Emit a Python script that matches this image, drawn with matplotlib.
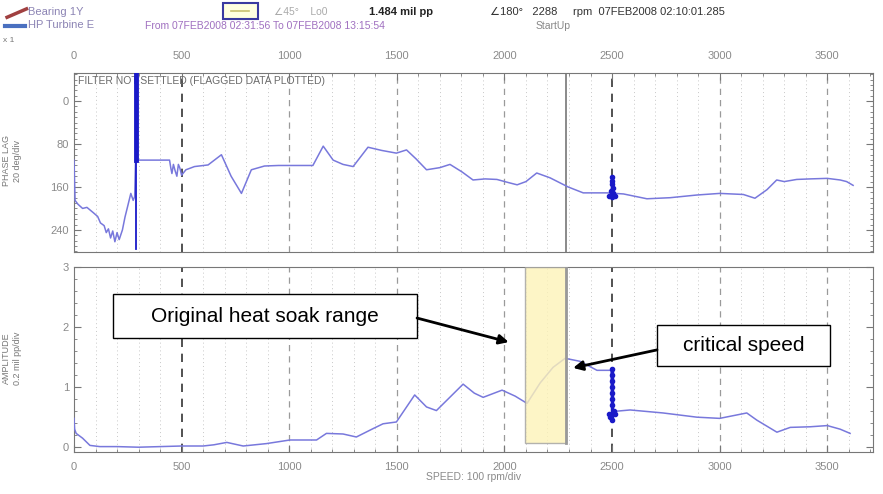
import matplotlib
matplotlib.use('Agg')
import matplotlib.pyplot as plt
from matplotlib.patches import Rectangle
from matplotlib.lines import Line2D
from matplotlib.ticker import MultipleLocator

plt.rcParams['font.family'] = ['Liberation Sans', 'DejaVu Sans']

# phase lag (deg) vs speed (rpm)
phase_rpm = [0, 5, 18, 40, 60, 90, 110, 123, 140, 150, 160, 170, 180, 190, 200, 210,
             225, 237, 250, 264, 275, 282, 286, 330, 444, 450, 455, 462, 470, 478,
             485, 492, 500, 520, 560, 623, 685, 730, 778, 824, 885, 950, 1020, 1110,
             1158, 1204, 1250, 1297, 1366, 1430, 1498, 1545, 1590, 1638, 1700, 1747,
             1803, 1854, 1910, 1965, 2020, 2059, 2100, 2150, 2212, 2296, 2366, 2476,
             2553, 2662, 2770, 2894, 3000, 3110, 3164, 3220, 3265, 3300, 3358, 3420,
             3500, 3560, 3590, 3620]
phase_deg = [110, 185, 192, 200, 198, 208, 215, 227, 232, 245, 238, 255, 242, 262, 245, 258,
             240, 216, 195, 172, 185, 178, 110, 110, 110, 125, 135, 118, 130, 140,
             118, 125, 138, 128, 122, 119, 100, 140, 172, 128, 121, 120, 120, 120,
             84, 110, 118, 122, 86, 92, 97, 91, 108, 128, 124, 118,
             132, 147, 145, 146, 152, 156, 150, 134, 143, 160, 171, 171,
             173, 182, 180, 175, 172, 174, 181, 165, 147, 150, 146, 145,
             144, 147, 150, 157]

# 1X amplitude (mil pp) vs speed (rpm)
amp_rpm = [0, 3, 10, 40, 74, 120, 200, 300, 400, 500, 600, 650, 710, 786, 894, 1003,
           1127, 1173, 1250, 1312, 1390, 1436, 1498, 1583, 1638, 1684, 1746, 1808, 1860,
           1901, 1989, 2050, 2105, 2166, 2226, 2282, 2351, 2430, 2495, 2500, 2522, 2584,
           2737, 2894, 3000, 3126, 3173, 3266, 3328, 3420, 3500, 3560, 3606]
amp_mil = [0.48, 0.30, 0.23, 0.15, 0.03, 0.01, 0.01, 0.0, 0.01, 0.02, 0.02, 0.04, 0.08,
           0.02, 0.06, 0.12, 0.12, 0.23, 0.22, 0.17, 0.31, 0.39, 0.42, 0.87, 0.67, 0.61,
           0.83, 1.05, 0.90, 0.83, 0.95, 0.85, 0.73, 1.07, 1.33, 1.48, 1.43, 1.28, 1.28,
           0.55, 0.60, 0.62, 0.57, 0.50, 0.48, 0.57, 0.45, 0.25, 0.33, 0.34, 0.36, 0.30, 0.23]

# dense bursts of samples at 2500 rpm
burst_phase_rpm = [2500, 2500, 2498, 2503, 2494, 2506, 2488, 2512, 2500]
burst_phase = [141, 148, 155, 162, 168, 172, 176, 177, 178]
burst_amp_rpm = [2500, 2500, 2500, 2500, 2500, 2500, 2500, 2486, 2514, 2492, 2508, 2500]
burst_amp = [1.30, 1.20, 1.10, 1.0, 0.9, 0.8, 0.7, 0.55, 0.55, 0.50, 0.60, 0.45]
spike_rpm = 290
spike_top = [-52, 110]
spike_bottom = [110, 275]

soak_range = (2095, 2285)
cursor_rpm = 2288

line_c = '#7878dc'
dark_c = '#1a1ac8'
grey = '#8a8a8a'

fig = plt.figure(figsize=(8.83, 4.94), dpi=100)
ax1 = fig.add_axes([0.0838, 0.490, 0.905, 0.362])
ax2 = fig.add_axes([0.0838, 0.085, 0.905, 0.3745])

for ax in (ax1, ax2):
    ax.set_xlim(0, 3713)
    ax.xaxis.set_major_locator(MultipleLocator(500))
    ax.xaxis.set_minor_locator(MultipleLocator(100))
    for x in range(100, 3700, 100):
        if x % 500:
            ax.axvline(x, color='#c8c8c8', lw=0.7, ls=(0, (1, 3)), zorder=0)
        elif x in (500, 2500):
            ax.axvline(x, color='#333333', lw=1.2, ls=(0, (5, 4)), zorder=0)
        else:
            ax.axvline(x, color='#9a9a9a', lw=0.9, ls=(0, (5, 4)), zorder=0)
    ax.tick_params(which='both', direction='in', colors='#777777', labelcolor=grey,
                   labelsize=8, right=True)
    ax.tick_params(which='major', length=5)
    ax.tick_params(which='minor', length=2.5)
    for s in ax.spines.values():
        s.set_color('#777777')

# top panel: phase
ax1.set_ylim(281, -52)
ax1.yaxis.set_major_locator(MultipleLocator(80))
ax1.yaxis.set_minor_locator(MultipleLocator(10))
ax1.xaxis.set_ticks_position('top')
ax1.tick_params(axis='x', which='both', top=True, bottom=False, labeltop=True,
                labelbottom=False, pad=9)
ax1.plot(phase_rpm, phase_deg, color=line_c, lw=1.1, zorder=3)
ax1.plot([spike_rpm, spike_rpm], spike_top, color=dark_c, lw=3.5, zorder=4)
ax1.plot([spike_rpm, spike_rpm], spike_bottom, color=dark_c, lw=1.3, zorder=4)
ax1.plot([2500, 2500], [min(burst_phase), max(burst_phase)], color=dark_c, lw=2.5, zorder=4)
ax1.plot(burst_phase_rpm, burst_phase, ls='none', color=dark_c, marker='o', ms=3, zorder=4)
ax1.axvline(cursor_rpm, color='#777777', lw=1.2, zorder=2)
ax1.text(0.005, 0.955, 'FILTER NOT SETTLED (FLAGGED DATA PLOTTED)', transform=ax1.transAxes,
         fontsize=7.5, color='#6a6a6a', va='center')
fig.text(0.014, 0.675, 'PHASE LAG\n20 deg/div', rotation=90, fontsize=6.5,
         color='#777777', ha='center', va='center', linespacing=1.3)

# bottom panel: amplitude
ax2.set_ylim(-0.08, 3.0)
ax2.yaxis.set_major_locator(MultipleLocator(1))
ax2.yaxis.set_minor_locator(MultipleLocator(0.2))
ax2.tick_params(axis='x', which='both', top=False, bottom=True, pad=7)
ax2.plot(amp_rpm, amp_mil, color=line_c, lw=1.1, zorder=3)
ax2.plot([2500, 2500], [min(burst_amp), max(burst_amp)], color=dark_c, lw=2.5, zorder=4)
ax2.plot(burst_amp_rpm, burst_amp, ls='none', color=dark_c, marker='o', ms=3, zorder=4)
ax2.add_patch(Rectangle((soak_range[0], 0.07), soak_range[1] - soak_range[0], 2.93,
                        facecolor='#fdf3b8', edgecolor='#a0a0a0', lw=1, alpha=0.8,
                        zorder=5))
ax2.plot([soak_range[1], soak_range[1]], [0.07, 3.0], color='#999999', lw=2, zorder=6)
ax2.set_xlabel('SPEED: 100 rpm/div', fontsize=7.5, color=grey, labelpad=0)
fig.text(0.014, 0.275, 'AMPLITUDE\n0.2 mil pp/div', rotation=90, fontsize=6.5,
         color='#777777', ha='center', va='center', linespacing=1.3)

# callouts
arrow = dict(arrowstyle='-|>', color='black', lw=2, mutation_scale=14, shrinkA=0, shrinkB=0)
ax2.add_patch(Rectangle((181, 1.82), 1413, 0.73, facecolor='white', edgecolor='black',
                        lw=1, zorder=8))
ax2.text(887, 2.18, 'Original heat soak range', fontsize=15, ha='center', va='center',
         zorder=9)
ax2.annotate('', xy=(2020, 1.75), xytext=(1594, 2.15), arrowprops=arrow, zorder=8)
ax2.add_patch(Rectangle((2709, 1.35), 804, 0.69, facecolor='white', edgecolor='black',
                        lw=1, zorder=8))
ax2.text(3111, 1.69, 'critical speed', fontsize=15, ha='center', va='center', zorder=9)
ax2.annotate('', xy=(2319, 1.32), xytext=(2709, 1.62), arrowprops=arrow, zorder=8)

# header lines
fig.text(0.032, 0.975, 'Bearing 1Y', fontsize=8, color='#8c84b4', va='center')
fig.text(0.032, 0.949, 'HP Turbine E', fontsize=8, color='#8c84b4', va='center')
fig.add_artist(Line2D([0.008, 0.03], [0.965, 0.982], color='#a04040', lw=2.5))
fig.add_artist(Line2D([0.006, 0.028], [0.947, 0.947], color='#4a70c0', lw=3))
fig.add_artist(Rectangle((0.252, 0.962), 0.04, 0.031, facecolor='#ffffe0',
                         edgecolor='#3a3aa0', lw=1.5))
fig.add_artist(Line2D([0.262, 0.282], [0.977, 0.977], color='#c8c070', lw=1.2))
fig.text(0.31, 0.975, '\u222045\u00b0    Lo0', fontsize=7.5, color='#aaaaaa', va='center')
fig.text(0.418, 0.975, '1.484 mil pp', fontsize=8, color='#222222', va='center',
         weight='bold')
fig.text(0.555, 0.975, '\u2220180\u00b0   2288     rpm  07FEB2008 02:10:01.285', fontsize=8,
         color='#333333', va='center')
fig.text(0.164, 0.947, 'From 07FEB2008 02:31:56 To 07FEB2008 13:15:54', fontsize=7.5,
         color='#a070c0', va='center')
fig.text(0.606, 0.947, 'StartUp', fontsize=7.5, color='#888888', va='center')
fig.text(0.003, 0.918, 'x 1', fontsize=6, color='#777777', va='center')

plt.savefig('out.png', dpi=100)
